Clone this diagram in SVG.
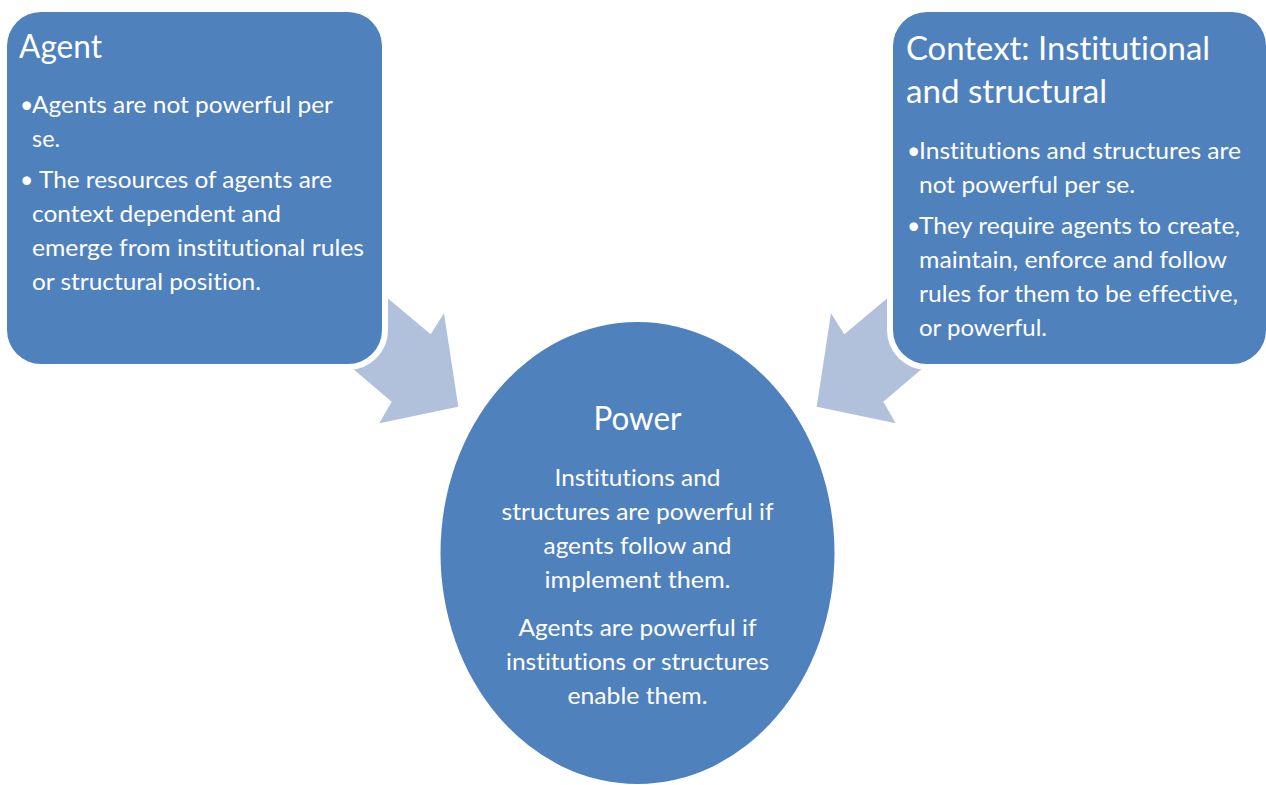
<svg xmlns="http://www.w3.org/2000/svg" width="1266" height="785" viewBox="0 0 1266 785">
<style>
.node{fill:#4F81BD;stroke:#FFFFFF;stroke-width:12;paint-order:stroke}
.arrow{fill:#B2C1DB;stroke:none}
.t{font-family:Lato,"Open Sans","Liberation Sans",sans-serif;fill:#FFFFFF;font-variant-ligatures:none;font-feature-settings:"liga" 0,"clig" 0}
.title{font-size:32px}
.body{font-size:23px}
</style>
<rect width="1266" height="785" fill="#FFFFFF"/>
<g id="connectors">
  <polygon class="arrow" points="360,275 430.7,334.3 444,313.3 458.3,406.7 379.3,423.3 391.7,401.7 325,345"/>
  <polygon class="arrow" points="915,275 844.3,334.3 831,313.3 816.7,406.7 895.7,423.3 883.3,401.7 950,345"/>
</g>
<g id="agent">
  <rect class="node" x="7" y="12" width="375" height="352" rx="34" ry="34"/>
  <text class="t title" x="19" y="58" textLength="83" lengthAdjust="spacingAndGlyphs">Agent</text>
  <text class="t body" x="20" y="113">•</text>
  <text class="t body" x="32" y="113" textLength="301" lengthAdjust="spacingAndGlyphs">Agents are not powerful per</text>
  <text class="t body" x="32" y="147" textLength="28" lengthAdjust="spacingAndGlyphs">se.</text>
  <text class="t body" x="20" y="188">•</text>
  <text class="t body" x="39" y="188" textLength="293" lengthAdjust="spacingAndGlyphs">The resources of agents are</text>
  <text class="t body" x="32" y="222" textLength="249" lengthAdjust="spacingAndGlyphs">context dependent and</text>
  <text class="t body" x="32" y="256" textLength="332" lengthAdjust="spacingAndGlyphs">emerge from institutional rules</text>
  <text class="t body" x="32" y="290" textLength="229" lengthAdjust="spacingAndGlyphs">or structural position.</text>
</g>
<g id="context">
  <rect class="node" x="893" y="12" width="373" height="352" rx="34" ry="34"/>
  <text class="t title" x="906" y="60" textLength="304" lengthAdjust="spacingAndGlyphs">Context: Institutional</text>
  <text class="t title" x="906" y="103" textLength="201" lengthAdjust="spacingAndGlyphs">and structural</text>
  <text class="t body" x="907" y="159">•</text>
  <text class="t body" x="919" y="159" textLength="322" lengthAdjust="spacingAndGlyphs">Institutions and structures are</text>
  <text class="t body" x="919" y="193" textLength="216" lengthAdjust="spacingAndGlyphs">not powerful per se.</text>
  <text class="t body" x="907" y="234">•</text>
  <text class="t body" x="919" y="234" textLength="321" lengthAdjust="spacingAndGlyphs">They require agents to create,</text>
  <text class="t body" x="919" y="268" textLength="308" lengthAdjust="spacingAndGlyphs">maintain, enforce and follow</text>
  <text class="t body" x="919" y="302" textLength="319" lengthAdjust="spacingAndGlyphs">rules for them to be effective,</text>
  <text class="t body" x="919" y="336" textLength="128" lengthAdjust="spacingAndGlyphs">or powerful.</text>
</g>
<g id="power">
  <ellipse class="node" cx="637.5" cy="553" rx="197" ry="231"/>
  <g text-anchor="middle">
    <text class="t title" x="637.5" y="430" textLength="88" lengthAdjust="spacingAndGlyphs">Power</text>
    <text class="t body" x="637.5" y="486" textLength="166" lengthAdjust="spacingAndGlyphs">Institutions and</text>
    <text class="t body" x="637.5" y="520" textLength="272" lengthAdjust="spacingAndGlyphs">structures are powerful if</text>
    <text class="t body" x="637.5" y="554" textLength="188" lengthAdjust="spacingAndGlyphs">agents follow and</text>
    <text class="t body" x="637.5" y="588" textLength="186" lengthAdjust="spacingAndGlyphs">implement them.</text>
    <text class="t body" x="637.5" y="636" textLength="238" lengthAdjust="spacingAndGlyphs">Agents are powerful if</text>
    <text class="t body" x="637.5" y="670" textLength="263" lengthAdjust="spacingAndGlyphs">institutions or structures</text>
    <text class="t body" x="637.5" y="704" textLength="140" lengthAdjust="spacingAndGlyphs">enable them.</text>
  </g>
</g>
</svg>
